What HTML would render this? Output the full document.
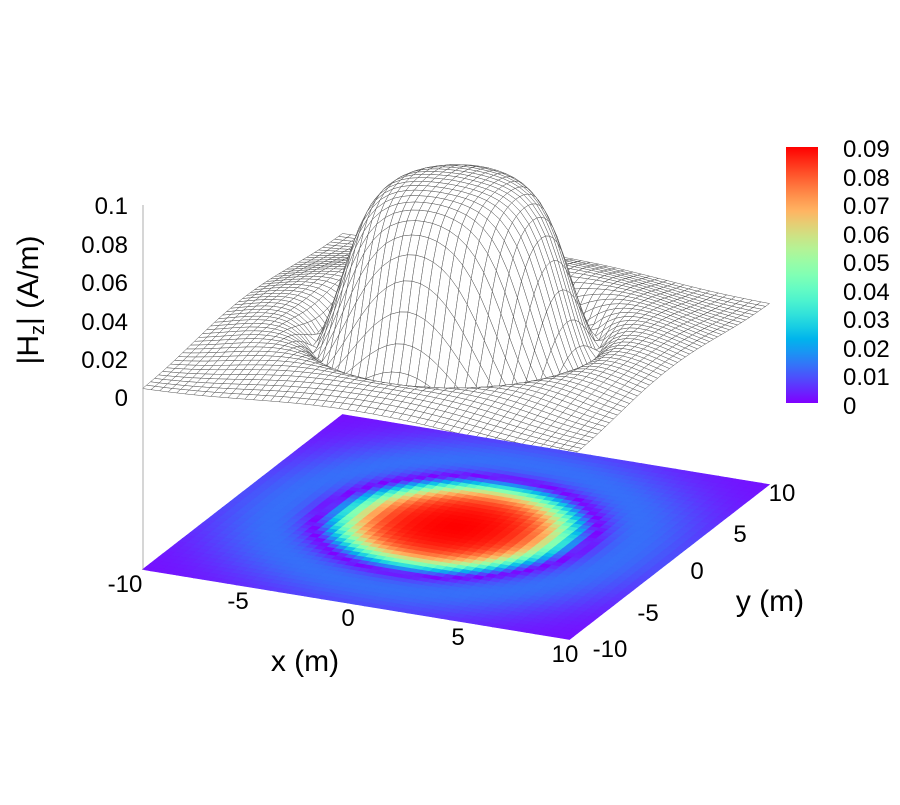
<!DOCTYPE html>
<html><head><meta charset="utf-8"><style>
body{margin:0;background:#fff}
svg text{font-family:"Liberation Sans",sans-serif;fill:#000}
</style></head><body>
<svg id="s" width="900" height="800" xmlns="http://www.w3.org/2000/svg">
<defs><linearGradient id="cb" x1="0" y1="1" x2="0" y2="0"></linearGradient></defs>
<g id="surf"></g><g id="heat"></g>
<line x1="143" y1="205" x2="143" y2="570" stroke="#999" stroke-width="0.8"/>
<g font-size="24" text-anchor="end">
<text x="128" y="214">0.1</text><text x="128" y="253">0.08</text><text x="128" y="291">0.06</text><text x="128" y="330">0.04</text><text x="128" y="368">0.02</text><text x="128" y="406">0</text>
</g>
<g font-size="24" text-anchor="middle">
<text x="125" y="592">-10</text><text x="238" y="609">-5</text><text x="348" y="626">0</text><text x="458" y="645">5</text><text x="565" y="662">10</text>
<text x="610" y="657">-10</text><text x="648" y="621">-5</text><text x="697" y="579">0</text><text x="740" y="542">5</text><text x="782" y="501">10</text>
</g>
<text x="305" y="671" font-size="30" text-anchor="middle">x (m)</text>
<text x="770" y="611" font-size="30" text-anchor="middle">y (m)</text>
<text transform="translate(38,300) rotate(-90)" font-size="30" text-anchor="middle">|H<tspan font-size="20" dy="6">z</tspan><tspan dy="-6">|  (A/m)</tspan></text>
<rect x="786" y="147" width="32" height="256" fill="url(#cb)"/>
<g font-size="24">
<text x="843" y="157">0.09</text><text x="843" y="186">0.08</text><text x="843" y="214">0.07</text><text x="843" y="243">0.06</text><text x="843" y="271">0.05</text><text x="843" y="300">0.04</text><text x="843" y="328">0.03</text><text x="843" y="357">0.02</text><text x="843" y="385">0.01</text><text x="843" y="414">0</text>
</g>
</svg>
<script>
function f(x,y){var r=Math.sqrt(x*x+y*y);
var v=0.092/(1+Math.exp((r-4.9)/0.65))-0.013*Math.exp(-Math.pow(r-7,2)/14)-0.0015;return Math.abs(v);}
function col(t){t=Math.max(0,Math.min(1,t));var r=Math.min(1,Math.abs(2*t-0.5)),g=Math.sin(Math.PI*t),b=Math.cos(Math.PI*t/2);
return "rgb("+Math.round(r*255)+","+Math.round(g*255)+","+Math.round(b*255)+")";}
function P(x,y,z){return [456+x*21.35+y*10, 527+x*3.5-y*7.75+(z===null?0:-177.5-1920*z)];}
var N=50,h=20/N,cells=[];
for(var i=0;i<N;i++)for(var j=0;j<N;j++){var x0=-10+i*h,y0=-10+j*h;cells.push([x0,y0,(x0+h/2)-(y0+h/2)]);}
var sh="",hh="";
cells.sort(function(a,b){return a[2]-b[2];});
cells.forEach(function(c){var x0=c[0],y0=c[1],x1=x0+h,y1=y0+h;
var pts=[[x0,y0],[x1,y0],[x1,y1],[x0,y1]];
var s=pts.map(function(p){var q=P(p[0],p[1],f(p[0],p[1]));return q[0].toFixed(1)+","+q[1].toFixed(1);}).join(" ");
sh+='<polygon points="'+s+'" fill="#fff" stroke="#555" stroke-width="0.5"/>';
var b=pts.map(function(p){var q=P(p[0],p[1],null);return q[0].toFixed(1)+","+q[1].toFixed(1);}).join(" ");
var cc=col(f(x0+h/2,y0+h/2)/0.09);
hh+='<polygon points="'+b+'" fill="'+cc+'" stroke="'+cc+'" stroke-width="0.6"/>';});
document.getElementById("surf").innerHTML=sh;document.getElementById("heat").innerHTML=hh;
var gs="";
for(var k=0;k<=20;k++){gs+='<stop offset="'+(k/20)+'" stop-color="'+col(k/20)+'"/>';}
document.getElementById("cb").innerHTML=gs;
</script>
</body></html>
